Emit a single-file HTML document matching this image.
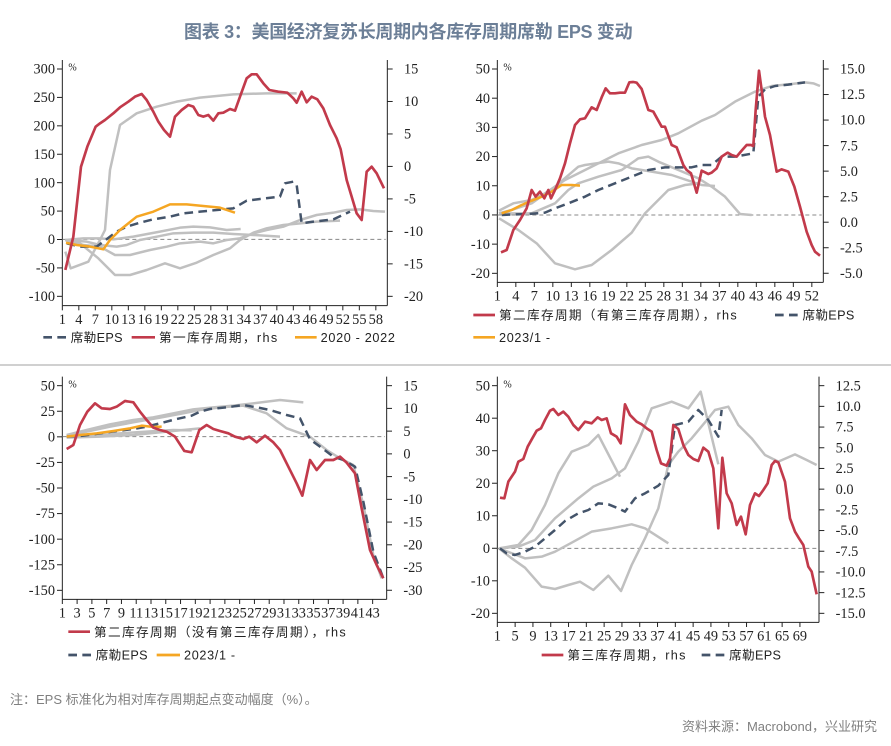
<!DOCTYPE html>
<html><head><meta charset="utf-8">
<style>
html,body{margin:0;padding:0;background:#fff;}
body{width:891px;height:746px;position:relative;overflow:hidden;font-family:"Liberation Sans","Noto Sans CJK SC",sans-serif;}
.title{position:absolute;left:184px;top:18px;font-size:18px;font-weight:bold;color:#6c7f97;font-family:"Liberation Sans","Noto Sans CJK SC",sans-serif;white-space:nowrap;letter-spacing:-0.3px;}
.note{position:absolute;left:10px;top:689px;font-size:13px;color:#808080;}
.src{position:absolute;right:14px;top:716px;font-size:13px;color:#808080;}
svg{position:absolute;left:0;top:0;}
</style></head><body>
<div class="title">图表 3：美国经济复苏长周期内各库存周期席勒 EPS 变动</div>
<svg id="s" width="891" height="746" viewBox="0 0 891 746" xmlns="http://www.w3.org/2000/svg">
<line x1="0" y1="365" x2="891" y2="365" stroke="#a0a0a0" stroke-width="1"/>
</svg>
<div class="note">注：EPS 标准化为相对库存周期起点变动幅度（%）。</div>
<div class="src">资料来源：Macrobond，兴业研究</div>
<script>
var NS="http://www.w3.org/2000/svg",S=document.getElementById("s");
var RED="#c23a4b",NAVY="#44546a",ORG="#f5a623",GRY="#c0c0c0";
function el(p,t,a,txt){var e=document.createElementNS(NS,t);for(var k in a)e.setAttribute(k,a[k]);if(txt!=null)e.textContent=txt;p.appendChild(e);return e;}
function panel(c){
 var g=el(S,"g",{transform:"translate("+c.ox+","+c.oy+") scale(0.33333)"});
 el(g,"line",{x1:c.L,y1:c.top,x2:c.L,y2:c.bot,stroke:"#222","stroke-width":3});
 el(g,"line",{x1:c.R,y1:c.top,x2:c.R,y2:c.bot,stroke:"#222","stroke-width":3});
 el(g,"line",{x1:c.L,y1:c.bot,x2:c.R,y2:c.bot,stroke:"#222","stroke-width":3});
 el(g,"line",{x1:c.L,y1:c.zero,x2:c.R-5,y2:c.zero,stroke:"#888","stroke-width":3,"stroke-dasharray":"12,9"});
 c.ll.forEach(function(v,i){var y=c.ly0+i*c.lst;el(g,"line",{x1:c.L-16,y1:y,x2:c.L,y2:y,stroke:"#222","stroke-width":3});
  el(g,"text",{x:c.L-22,y:y+14,"text-anchor":"end","font-size":43,"font-family":"Liberation Serif,serif",fill:"#222"},v);});
 c.rl.forEach(function(v,i){var y=c.ry0+i*c.rst;el(g,"line",{x1:c.R,y1:y,x2:c.R+16,y2:y,stroke:"#222","stroke-width":3});
  el(g,"text",{x:c.R+50,y:y+14,"text-anchor":"start","font-size":43,"font-family":"Liberation Serif,serif",fill:"#222"},v);});
 c.xl.forEach(function(v,i){var x=c.L+i*c.xst;el(g,"line",{x1:x,y1:c.bot,x2:x,y2:c.bot+14,stroke:"#222","stroke-width":3});
  el(g,"text",{x:x,y:c.bot+55,"text-anchor":"middle","font-size":43,"font-family":"Liberation Serif,serif",fill:"#222"},v);});
 el(g,"text",{x:c.L+18,y:c.top+32,"font-size":30,"font-family":"Liberation Serif,serif",fill:"#222"},"%");
 c.series.forEach(function(s){el(g,"polyline",{points:s[1],fill:"none",stroke:s[0],"stroke-width":s[0]==RED?8:7.5,"stroke-linejoin":"round","stroke-dasharray":s[0]==NAVY?"26,16":"none"});});
 c.leg.forEach(function(l){var col=l[0];el(g,"line",{x1:l[1],y1:l[3],x2:l[2],y2:l[3],stroke:col,"stroke-width":8,"stroke-dasharray":col==NAVY?"26,16":"none"});
  el(g,"text",{x:l[2]+12,y:l[3]+14,"font-size":38,"letter-spacing":l[5]||0,"font-family":"Liberation Sans,Noto Sans CJK SC,sans-serif",fill:"#222"},l[4]);});
}
function nums(a,b,s){var r=[];for(var i=a;i<=b;i+=s)r.push(String(i));return r;}
panel({ox:0,oy:50,L:187,R:1162,top:30,bot:767,zero:568,
 ll:["300","250","200","150","100","50","0","-50","-100"],ly0:57,lst:85.25,
 rl:["15","10","5","0","-5","-10","-15","-20"],ry0:57,rst:97.43,
 xl:nums(1,58,3),xst:49.5,
 series:[
 [GRY,"196,605 212,655 265,635 300,570 315,540 330,360 360,225 410,190 470,170 530,155 600,143 700,133 800,130 890,130"],
 [GRY,"196,570 250,565 300,565 340,568 400,560 480,545 540,533 580,530 630,532 680,540 722,537"],
 [GRY,"196,570 240,580 295,625 345,675 390,675 440,660 495,640 540,655 590,638 640,615 690,595 720,570 760,548 800,535 850,525 900,520 950,515 1020,512"],
 [GRY,"196,570 250,585 300,590 345,615 390,615 450,600 500,590 540,580 600,575 640,580 680,570 720,565 760,550 800,540 850,530 900,510 950,495 1000,488 1040,480 1080,478 1120,483 1155,485"],
 [GRY,"196,570 260,575 300,585 350,590 380,585 420,570 470,560 520,550 580,548 640,548 700,552 760,555 840,560"],
 [NAVY,"200,580 240,590 290,590 330,560 350,545 380,530 420,518 460,508 510,500 550,490 600,485 650,480 700,475 740,452 780,447 840,440 855,400 880,395 890,405 905,520 940,515 1000,508 1050,485"],
 [ORG,"198,578 230,585 270,590 310,598 330,570 360,540 410,500 460,485 510,463 560,463 610,468 660,473 705,488"],
 [RED,"196,660 220,560 243,350 262,290 287,230 300,220 315,210 340,190 360,172 385,155 405,140 425,132 440,150 460,185 475,215 492,240 510,260 525,200 545,180 565,165 580,170 595,195 610,200 625,195 640,212 655,190 670,188 690,177 705,182 720,140 740,85 755,73 770,73 790,100 808,120 835,125 862,128 880,145 890,158 905,125 920,157 935,140 952,148 970,175 990,225 1010,265 1022,298 1040,390 1055,440 1070,490 1085,510 1100,365 1115,350 1130,370 1152,415"]],
 leg:[[NAVY,130,200,862,"席勒EPS",1],[RED,395,465,862,"第一库存周期，rhs",4],[ORG,885,950,862,"2020 - 2022",2]]});
panel({ox:445,oy:50,L:157,R:1135,top:30,bot:697,zero:495,
 ll:["50","40","30","20","10","0","-10","-20"],ly0:57,lst:87.57,
 rl:["15.0","12.5","10.0","7.5","5.0","2.5","0.0","-2.5","-5.0"],ry0:57,rst:76.6,
 xl:nums(1,52,3),xst:55.5,
 series:[
 [GRY,"162,482 205,460 260,450 300,430 360,390 400,370 460,340 520,310 590,285 650,270 700,250 770,212 810,195 870,155 930,125 980,108 1040,102 1080,97 1105,100 1125,108"],
 [GRY,"162,490 210,490 260,490 330,460 370,420 400,400 460,380 530,360 580,325 610,320 640,335 700,360 760,385 800,410 840,440 885,492 920,495"],
 [GRY,"162,490 200,480 260,460 330,410 400,350 420,345 490,335 520,340 560,355 620,365 680,375 740,395 770,405 810,408"],
 [GRY,"162,505 220,540 275,580 330,640 390,658 440,645 500,600 560,548 600,490 640,450 670,420 720,405 760,400"],
 [NAVY,"170,495 210,493 250,492 300,488 330,475 370,460 420,440 460,420 510,400 560,380 610,360 660,352 700,352 740,352 770,345 800,345 830,320 870,320 925,310 940,140 960,118 990,108 1030,104 1080,97"],
 [ORG,"170,490 200,480 230,465 260,452 290,440 320,425 350,405 380,405 405,407"],
 [RED,"168,607 185,600 205,540 225,510 245,475 260,420 272,440 285,425 298,445 310,420 318,445 330,420 345,385 360,340 375,280 390,225 405,208 420,205 440,172 455,180 470,142 482,115 495,130 510,130 525,128 540,128 553,97 565,96 575,98 590,117 610,180 625,185 650,230 660,230 680,285 695,292 715,345 725,360 738,370 755,428 770,362 790,372 800,368 815,355 830,320 848,308 860,315 875,320 890,302 905,285 918,285 925,288 932,180 942,62 950,120 960,200 975,255 995,365 1010,358 1030,365 1048,410 1065,470 1085,545 1100,585 1110,605 1125,617"]],
 leg:[[RED,85,150,795,"第二库存周期（有第三库存周期），rhs",4],[NAVY,990,1060,795,"席勒EPS",1],[ORG,85,150,862,"2023/1 -",2]]});
panel({ox:0,oy:365,L:187,R:1160,top:35,bot:703,zero:215,
 ll:["50","25","0","-25","-50","-75","-100","-125","-150"],ly0:62,lst:76.75,
 rl:["15","10","5","0","-5","-10","-15","-20","-25","-30"],ry0:62,rst:68.2,
 xl:nums(1,43,2),xst:44.33,
 series:[
 [GRY,"200,210 260,195 330,178 400,165 460,157 520,145 580,133 640,127 700,122 760,115 840,105 910,112"],
 [GRY,"200,212 260,200 330,185 400,172 480,158 550,145 600,135 660,127 730,122 800,145 860,190 930,215 980,255 1020,280 1060,300 1090,420 1120,570 1145,640"],
 [GRY,"200,215 280,212 360,205 440,200 520,195 575,196"],
 [GRY,"200,218 300,215 400,210 500,200 600,190"],
 [NAVY,"200,215 250,212 300,205 350,198 400,192 440,185 480,175 530,162 575,152 600,140 630,132 680,127 730,120 770,127 810,135 860,150 900,160 930,223 970,252 1000,275 1030,285 1065,305 1090,410 1120,560 1150,640"],
 [ORG,"200,215 240,210 290,205 340,198 390,190 425,182 460,186 485,185"],
 [RED,"200,252 220,240 240,180 262,140 285,115 305,130 330,132 350,125 375,108 400,112 420,140 440,165 460,188 480,195 500,200 525,215 553,258 575,262 598,195 620,180 640,192 660,198 685,205 705,215 730,222 748,215 770,232 795,212 820,232 840,255 865,305 890,355 907,392 930,285 950,315 975,285 1000,285 1020,275 1040,293 1065,325 1085,430 1110,555 1130,600 1150,640"]],
 leg:[[RED,205,270,800,"第二库存周期（没有第三库存周期），rhs",4],[NAVY,205,275,870,"席勒EPS",1],[ORG,470,540,870,"2023/1 -",2]]});
panel({ox:445,oy:365,L:157,R:1122,top:35,bot:772,zero:550,
 ll:["50","40","30","20","10","0","-10","-20"],ly0:62,lst:97.57,
 rl:["12.5","10.0","7.5","5.0","2.5","0.0","-2.5","-5.0","-7.5","-10.0","-12.5","-15.0"],ry0:62,rst:62.09,
 xl:nums(1,69,4),xst:53.4,
 series:[
 [GRY,"162,550 200,580 240,608 290,665 330,672 370,660 405,650 445,675 490,632 528,678 560,600 600,520 640,430 670,300 700,260 740,220 790,160 810,135 850,125 880,180 920,220 960,270 1000,290 1050,268 1085,285 1115,300"],
 [GRY,"162,550 220,540 260,495 300,420 340,325 380,260 430,240 460,210 525,335"],
 [GRY,"162,550 220,545 270,525 330,460 400,400 445,365 500,340 540,310 580,230 620,130 680,110 730,130 767,80 820,298"],
 [GRY,"162,550 240,580 290,575 330,560 380,533 440,500 500,490 560,478 600,490 670,535"],
 [NAVY,"165,550 185,565 210,570 240,560 270,545 300,520 330,495 360,468 400,445 430,435 460,415 490,418 520,430 540,440 570,400 600,385 640,362 670,330 690,180 730,170 760,135 790,165 820,215 830,135"],
 [RED,"165,398 178,400 190,350 210,320 220,290 235,282 248,245 262,220 275,197 288,190 300,165 315,137 325,132 340,150 355,140 370,155 385,180 400,195 420,170 440,175 458,157 470,165 485,160 498,205 515,215 527,235 540,118 555,150 575,170 590,178 605,190 620,200 635,255 648,295 665,302 675,280 685,180 700,192 715,240 730,270 745,282 760,288 775,248 790,260 805,310 820,490 832,278 845,385 860,415 875,480 888,455 902,508 915,420 930,385 942,393 955,375 968,355 980,300 990,288 1000,292 1020,350 1035,460 1050,500 1062,520 1075,540 1090,605 1100,620 1115,688"]],
 leg:[[RED,290,355,870,"第三库存周期，rhs",4],[NAVY,770,840,870,"席勒EPS",1]]});
</script>
</body></html>
